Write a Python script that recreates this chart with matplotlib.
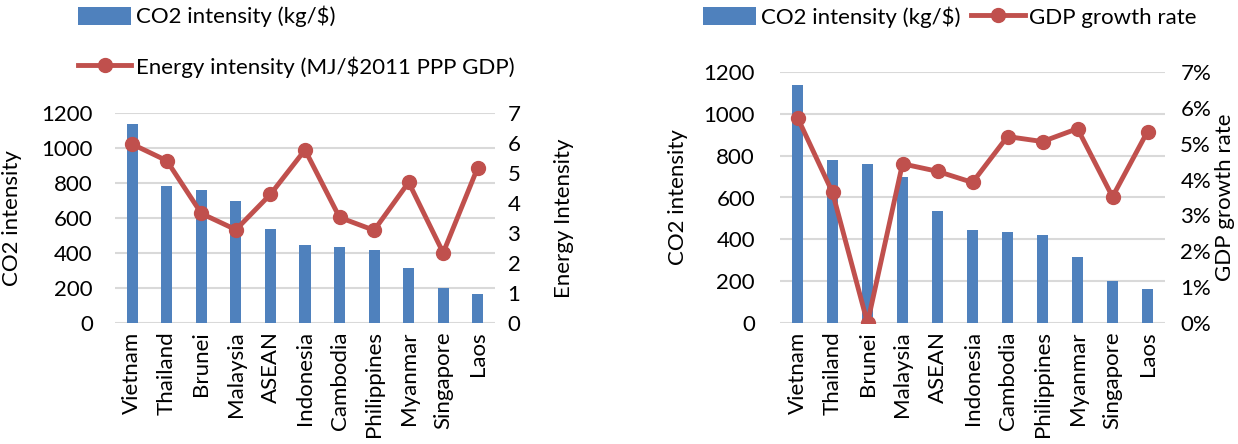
import numpy as np
import matplotlib.pyplot as plt
from matplotlib.ticker import PercentFormatter

plt.rcParams['font.family'] = ['Lato', 'DejaVu Sans']
plt.rcParams['font.size'] = 16

countries = ['Vietnam', 'Thailand', 'Brunei', 'Malaysia', 'ASEAN', 'Indonesia',
             'Cambodia', 'Philippines', 'Myanmar', 'Singapore', 'Laos']
co2_intensity = [1137, 781, 760, 699, 536, 444, 436, 419, 316, 201, 163]
energy_intensity = [5.96, 5.41, 3.65, 3.11, 4.29, 5.77, 3.52, 3.09, 4.69, 2.34, 5.18]
gdp_growth = [5.73, 3.64, 0.0, 4.44, 4.23, 3.92, 5.20, 5.06, 5.42, 3.52, 5.34]

blue = '#4F81BD'
red = '#C0504D'
grid_c = '#D9D9D9'

W, H = 1238, 444
fig = plt.figure(figsize=(W / 100, H / 100), dpi=100)


def style(ax, ax2, lpad, rpad):
    for a in (ax, ax2):
        for s in a.spines.values():
            s.set_visible(False)
        a.tick_params(length=0)
    ax.set_axisbelow(True)
    ax.yaxis.grid(True, color=grid_c, linewidth=1.5)
    ax.set_ylim(0, 1200)
    ax.set_yticks(np.arange(0, 1201, 200))
    ax.set_xlim(-0.5, len(countries) - 0.5)
    ax.set_xticks(range(len(countries)))
    ax.set_xticklabels(countries, rotation=90)
    ax.tick_params(axis='x', pad=6)
    ax.tick_params(axis='y', pad=lpad)
    ax2.tick_params(axis='y', pad=rpad)
    ax2.set_ylim(0, 7)
    ax2.set_yticks(range(8))
    ax.set_ylabel('CO2 intensity')


x = np.arange(len(countries))

# left panel: CO2 vs energy intensity
ax1 = fig.add_axes([115 / W, 1 - 323 / H, 380 / W, 210 / H])
ax1b = ax1.twinx()
b1 = ax1.bar(x, co2_intensity, width=0.32, color=blue, label='CO2 intensity (kg/$)')
l1, = ax1b.plot(x, energy_intensity, color=red, linewidth=3.5, marker='o',
                markersize=10, label='Energy intensity (MJ/$2011 PPP GDP)')
style(ax1, ax1b, 16, 9)
ax1b.set_ylabel('Energy Intensity')
ax1.yaxis.set_label_coords(-0.245, 0.5)
ax1b.yaxis.set_label_coords(1.155, 0.5)

fig.legend([b1, l1], [b1.get_label(), l1.get_label()], loc='upper left',
           bbox_to_anchor=(78 / W, 1 - 6 / H), frameon=False, ncol=1, borderpad=0,
           borderaxespad=0, handlelength=2.4, handleheight=0.9, labelspacing=1.3,
           handletextpad=0.2)

# right panel: CO2 vs GDP growth
ax2 = fig.add_axes([780 / W, 1 - 323 / H, 385 / W, 251 / H])
ax2b = ax2.twinx()
b2 = ax2.bar(x, co2_intensity, width=0.32, color=blue, label='CO2 intensity (kg/$)')
l2, = ax2b.plot(x, gdp_growth, color=red, linewidth=3.5, marker='o',
                markersize=10, label='GDP growth rate')
style(ax2, ax2b, 18, 11)
ax2b.yaxis.set_major_formatter(PercentFormatter(decimals=0))
ax2b.set_ylabel('GDP growth rate')
ax2.yaxis.set_label_coords(-0.239, 0.5)
ax2b.yaxis.set_label_coords(1.13, 0.5)

fig.legend([b2, l2], [b2.get_label(), l2.get_label()], loc='upper left',
           bbox_to_anchor=(703 / W, 1 - 6 / H), frameon=False, ncol=2, borderpad=0,
           borderaxespad=0, handlelength=2.4, handleheight=0.9, handletextpad=0.2,
           columnspacing=0.5)

fig.savefig('out.png', dpi=100)
